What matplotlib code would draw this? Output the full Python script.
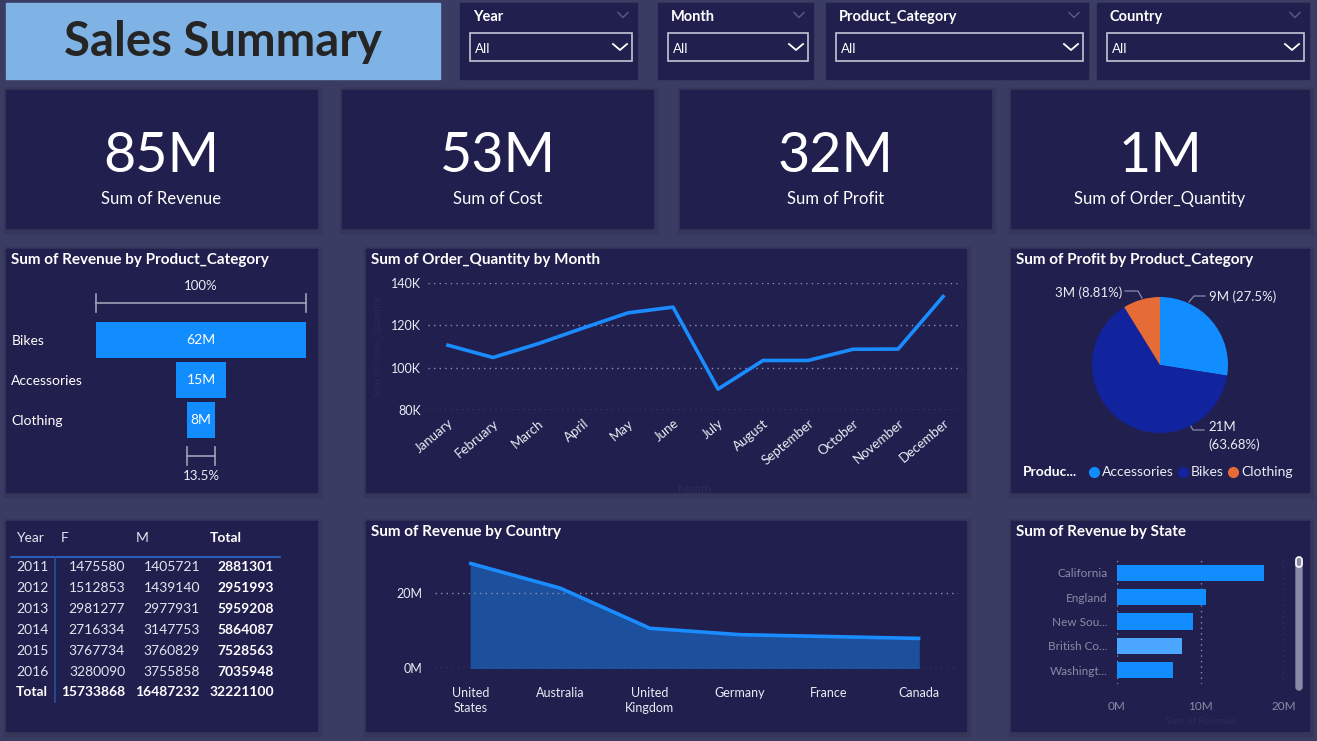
import numpy as np
import matplotlib.pyplot as plt
from matplotlib.patches import Rectangle, FancyBboxPatch

W, H = 1317, 741
BG = '#3b3c63'
PANEL = '#201f4e'
BLUE = '#118dff'
LINE_BLUE = '#1a8cff'
TXT = '#ececf4'
GRID = '#8e8eaa'

plt.rcParams['font.family'] = ['Lato', 'DejaVu Sans']

# ---- data ----
slicer_names = ['Year', 'Month', 'Product_Category', 'Country']
kpi_values = ['85M', '53M', '32M', '1M']
kpi_labels = ['Sum of Revenue', 'Sum of Cost', 'Sum of Profit', 'Sum of Order_Quantity']

categories = ['Bikes', 'Accessories', 'Clothing']
cat_revenue = [62.0, 15.0, 8.37]  # M

months = ['January', 'February', 'March', 'April', 'May', 'June', 'July',
          'August', 'September', 'October', 'November', 'December']
order_qty = [110.6, 104.8, 111.3, 118.7, 125.9, 128.6, 89.9, 103.4, 103.4, 108.7, 108.8, 133.6]  # K

pie_labels = ['Accessories', 'Bikes', 'Clothing']
pie_profit = [8.861, 20.518, 2.839]  # M
pie_colors = ['#118dff', '#12239e', '#e66c37']

years = [2011, 2012, 2013, 2014, 2015, 2016]
female = [1475580, 1512853, 2981277, 2716334, 3767734, 3280090]
male = [1405721, 1439140, 2977931, 3147753, 3760829, 3755858]

countries = ['United\nStates', 'Australia', 'United\nKingdom', 'Germany', 'France', 'Canada']
country_revenue = [27.9, 21.3, 10.6, 8.9, 8.4, 7.9]  # M

state_labels = ['California', 'England', 'New Sou...', 'British Co...', 'Washingt...']
state_revenue = [17.6, 10.7, 9.1, 7.8, 6.7]  # M
state_colors = [BLUE, BLUE, BLUE, '#4aa6ff', BLUE]

# ---- canvas ----
fig = plt.figure(figsize=(W / 100, H / 100), dpi=100, facecolor=BG)
bg = fig.add_axes([0, 0, 1, 1])
bg.set_xlim(0, W)
bg.set_ylim(H, 0)
bg.axis('off')


def px_axes(x0, y0, x1, y1):
    ax = fig.add_axes([x0 / W, 1 - y1 / H, (x1 - x0) / W, (y1 - y0) / H])
    ax.set_facecolor('none')
    for s in ax.spines.values():
        s.set_visible(False)
    return ax


def panel(x0, y0, x1, y1, color=PANEL, shadow=True):
    if shadow:
        bg.add_patch(Rectangle((x0 - 2, y0 - 2), x1 - x0 + 6, y1 - y0 + 7, color='#35365a', zorder=0))
    bg.add_patch(Rectangle((x0, y0), x1 - x0, y1 - y0, color=color, zorder=1))


def chevron(x, y, w, h, color, lw=1.2):
    bg.plot([x - w, x, x + w], [y - h / 2, y + h / 2, y - h / 2], color=color, lw=lw, zorder=3)


# title box
panel(6, 3, 440, 79, color='#7fb3e6', shadow=False)
bg.text(223, 42, 'Sales Summary', fontsize=34, fontweight='bold', color='#252525',
        ha='center', va='center', zorder=3)

# slicers
slicer_boxes = [(460, 3, 637, 79), (658, 3, 813, 79), (826, 3, 1088, 79), (1097, 3, 1309, 79)]
for name, (x0, y0, x1, y1) in zip(slicer_names, slicer_boxes):
    panel(x0, y0, x1, y1, shadow=False)
    bg.text(x0 + 13, 17, name, fontsize=10.5, fontweight='bold', color='white', va='center', zorder=3)
    chevron(x1 - 14, 15, 5, 5, '#5c5c86', lw=1)
    bg.add_patch(Rectangle((x0 + 10, 33), x1 - x0 - 15, 28, fill=False, ec='#c4c4d6', lw=1.2, zorder=3))
    bg.text(x0 + 15, 49, 'All', fontsize=9.5, color='white', va='center', zorder=3)
    chevron(x1 - 17, 47, 7, 6, 'white', lw=1.3)

# KPI cards
kpi_boxes = [(6, 90, 317, 228), (342, 90, 653, 228), (680, 90, 991, 228), (1011, 90, 1309, 228)]
for val, lab, (x0, y0, x1, y1) in zip(kpi_values, kpi_labels, kpi_boxes):
    panel(x0, y0, x1, y1)
    cx = (x0 + x1) / 2
    bg.text(cx, 157, val, fontsize=40, color='white', ha='center', va='center', zorder=3)
    bg.text(cx, 199, lab, fontsize=12, color='white', ha='center', va='center', zorder=3)

# chart panels
for box in [(6, 249, 317, 492), (366, 249, 966, 492), (1011, 249, 1309, 492),
            (6, 521, 317, 731), (366, 521, 966, 731), (1011, 521, 1309, 731)]:
    panel(*box)

titles = [(11, 260, 'Sum of Revenue by Product_Category'), (371, 260, 'Sum of Order_Quantity by Month'),
          (1016, 260, 'Sum of Profit by Product_Category'), (371, 532, 'Sum of Revenue by Country'),
          (1016, 532, 'Sum of Revenue by State')]
for x, y, t in titles:
    bg.text(x, y, t, fontsize=11, fontweight='bold', color='white', va='center', zorder=3)

# ---- funnel ----
ax = px_axes(96, 280, 306, 490)
half = cat_revenue[0] / 2
ax.set_xlim(-half, half)
ax.set_ylim(3.75, -1.5)
pos = np.arange(len(categories))
ax.barh(pos, cat_revenue, left=[-v / 2 for v in cat_revenue], height=0.9, color=BLUE)
for p, v in zip(pos, cat_revenue):
    ax.text(0, p, f'{v:.0f}M', color='white', fontsize=10, ha='center', va='center')
ax.set_yticks(pos)
ax.set_yticklabels(categories, fontsize=10, color='white')
for lbl in ax.get_yticklabels():
    lbl.set_ha('left')
ax.tick_params(axis='y', length=0, pad=61)
ax.set_xticks([])
bc = '#a0a0ba'
for v, yb, yt in [(cat_revenue[0], -0.925, -1.35), (cat_revenue[-1], 2.9, 3.4)]:
    ax.plot([-v / 2, v / 2], [yb, yb], color=bc, lw=1.2, clip_on=False)
    ax.plot([-v / 2, -v / 2], [yb - 0.22, yb + 0.22], color=bc, lw=1.2, clip_on=False)
    ax.plot([v / 2, v / 2], [yb - 0.22, yb + 0.22], color=bc, lw=1.2, clip_on=False)
    pct = v / cat_revenue[0] * 100
    ax.text(0, yt, f'{pct:.1f}%'.replace('100.0', '100'), color=TXT, fontsize=9.5,
            ha='center', va='center', clip_on=False)

# ---- line chart ----
ax = px_axes(428, 283, 962, 410)
x = np.arange(len(months))
ax.plot(x, order_qty, color=LINE_BLUE, lw=2.6, solid_joinstyle='round')
ax.set_xlim(-0.444, 11.42)
ax.set_ylim(80, 140)
ax.set_yticks([80, 100, 120, 140])
ax.set_yticklabels([f'{v}K' for v in [80, 100, 120, 140]], fontsize=9, color=TXT)
ax.grid(axis='y', linestyle=(0, (1, 3)), color=GRID, lw=1)
ax.set_xticks(x)
ax.set_xticklabels(months, fontsize=9.5, color=TXT, rotation=40, ha='right', rotation_mode='anchor')
ax.tick_params(length=0, pad=5)
ax.set_xlabel('Month', fontsize=8, color='#2c2c5c', labelpad=12)
ax.set_ylabel('Sum of Order_Quantity', fontsize=7, color='#2a2a58', labelpad=6)

# ---- pie ----
ax = px_axes(1092, 297, 1228, 433)
ax.pie(pie_profit, colors=pie_colors, startangle=90, counterclock=False,
       wedgeprops=dict(linewidth=0))
ax.set_xlim(-1, 1)
ax.set_ylim(-1, 1)
ax.set_aspect('equal')
total_profit = sum(pie_profit)


def pct_txt(v):
    return f'{v / total_profit * 100:.2f}'.rstrip('0').rstrip('.') + '%'


lead = '#8a8aa8'
bg.text(1209, 297, f'{pie_profit[0]:.0f}M ({pct_txt(pie_profit[0])})', fontsize=9.5, color=TXT,
        va='center', zorder=3)
bg.plot([1189, 1194, 1205], [302, 296, 296], color=lead, lw=0.9, zorder=3)
bg.text(1122, 293, f'{pie_profit[2]:.0f}M ({pct_txt(pie_profit[2])})', fontsize=9.5, color=TXT,
        va='center', ha='right', zorder=3)
bg.plot([1125, 1138, 1142], [291, 291, 298], color=lead, lw=0.9, zorder=3)
bg.text(1208, 436, f'{pie_profit[1]:.0f}M\n({pct_txt(pie_profit[1])})', fontsize=9.5, color=TXT,
        va='center', linespacing=1.5, zorder=3)
bg.plot([1188, 1193, 1204], [421, 430, 430], color=lead, lw=0.9, zorder=3)

# legend
bg.text(1023, 472, 'Produc...', fontsize=10, fontweight='bold', color='white', va='center', zorder=3)
for lx, lab, c in zip([1094, 1183, 1233], pie_labels, pie_colors):
    bg.plot(lx, 472, 'o', ms=7, color=c, zorder=3)
    bg.text(lx + 8, 472, lab, fontsize=10, color=TXT, va='center', zorder=3)

# ---- table ----
tc = '#e4e4ee'
bg.text(16, 538, 'Year', fontsize=10, color=tc, va='center', zorder=3)
bg.text(61, 538, 'F', fontsize=10, color=tc, va='center', zorder=3)
bg.text(136, 538, 'M', fontsize=10, color=tc, va='center', zorder=3)
bg.text(210, 538, 'Total', fontsize=10, fontweight='bold', color='white', va='center', zorder=3)
bg.plot([11, 280], [557, 557], color='#2c6bd0', lw=1.2, zorder=3)
bg.plot([55, 55], [557, 702], color='#26509e', lw=1.2, zorder=3)
rows = [(str(yr), f, m) for yr, f, m in zip(years, female, male)]
for i, (yr, f, m) in enumerate(rows):
    y = 567 + 21 * i
    bg.text(16, y, yr, fontsize=10, color=tc, va='center', zorder=3)
    bg.text(125, y, str(f), fontsize=10, color=tc, va='center', ha='right', zorder=3)
    bg.text(200, y, str(m), fontsize=10, color=tc, va='center', ha='right', zorder=3)
    bg.text(274, y, str(f + m), fontsize=10, fontweight='bold', color='white', va='center', ha='right', zorder=3)
y = 567 + 21 * len(rows) - 1
bg.text(16, y, 'Total', fontsize=10, fontweight='bold', color='white', va='center', zorder=3)
bg.text(125, y, str(sum(female)), fontsize=10, fontweight='bold', color='white', va='center', ha='right', zorder=3)
bg.text(200, y, str(sum(male)), fontsize=10, fontweight='bold', color='white', va='center', ha='right', zorder=3)
bg.text(274, y, str(sum(female) + sum(male)), fontsize=10, fontweight='bold', color='white',
        va='center', ha='right', zorder=3)

# ---- area chart ----
ax = px_axes(435, 550, 958, 668)
xc = np.arange(len(countries))
ax.fill_between(xc, country_revenue, color='#1c4f9c')
ax.plot(xc, country_revenue, color=LINE_BLUE, lw=2.6)
ax.set_xlim(-0.40, 5.44)
ax.set_ylim(0, 31.5)
ax.set_yticks([0, 20])
ax.set_yticklabels(['0M', '20M'], fontsize=9, color=TXT)
ax.grid(axis='y', linestyle=(0, (1, 3)), color=GRID, lw=1)
ax.set_xticks(xc)
ax.set_xticklabels(countries, fontsize=9, color=TXT, linespacing=1.3)
ax.tick_params(length=0)
ax.tick_params(axis='x', pad=14)
ax.tick_params(axis='y', pad=9)

# ---- state bars ----
ax = px_axes(1117, 560, 1284, 684)
ys = np.arange(len(state_labels))
ax.barh(ys, state_revenue, height=0.66, color=state_colors)
ax.set_xlim(0, 20)
ax.set_ylim(4.577, -0.536)
ax.set_xticks([0, 10, 20])
ax.set_xticklabels(['0M', '10M', '20M'], fontsize=8.5, color='#8a8aa6')
ax.set_yticks(ys)
ax.set_yticklabels(state_labels, fontsize=8.5, color='#8a8aa6')
ax.grid(axis='x', linestyle=(0, (1, 3)), color=GRID, lw=1)
ax.set_axisbelow(True)
ax.tick_params(length=0)
ax.tick_params(axis='x', pad=12)
ax.tick_params(axis='y', pad=7)
ax.set_xlabel('Sum of Revenue', fontsize=7, color='#2c2c5c', labelpad=4)

# scrollbar
bg.add_patch(FancyBboxPatch((1296, 560), 6, 130, boxstyle='round,pad=0,rounding_size=3',
                            color='#8a8aa8', zorder=3))
bg.add_patch(FancyBboxPatch((1296, 557), 6, 10, boxstyle='round,pad=0,rounding_size=3',
                            fc='#8a8aa8', ec='white', lw=1.2, zorder=4))

fig.savefig('out.png', dpi=100, facecolor=BG)
